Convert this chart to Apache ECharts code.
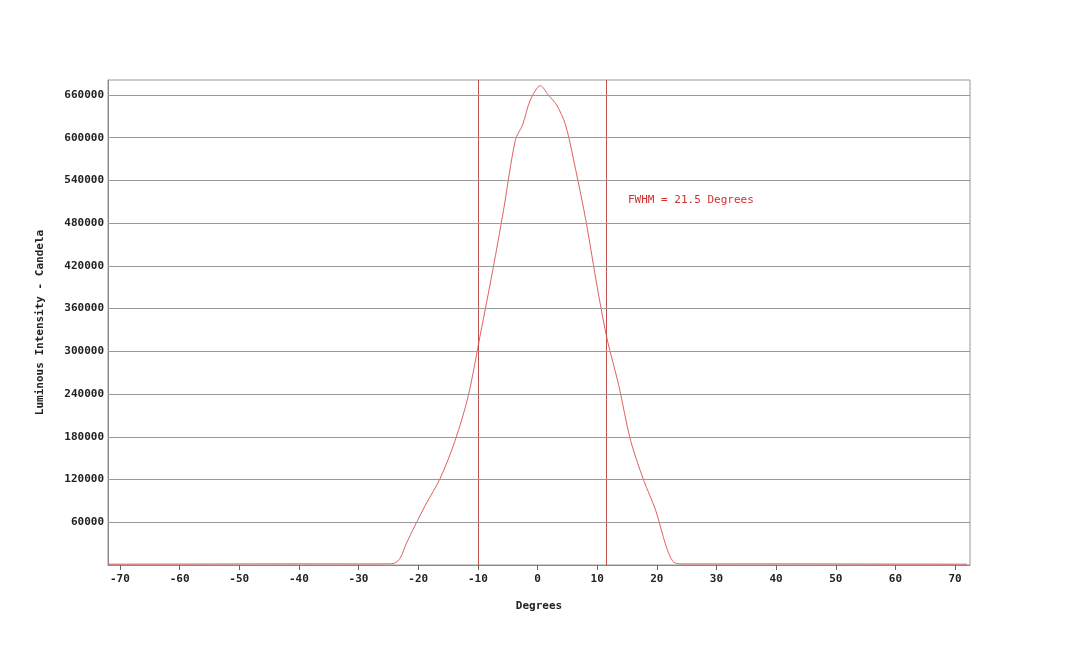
<!DOCTYPE html>
<html>
<head>
<meta charset="utf-8">
<script src="https://cdn.jsdelivr.net/npm/echarts@6/dist/echarts.min.js"></script>
<style>html,body{margin:0;padding:0;background:#fff;}#main{width:1080px;height:646px;}</style>
</head>
<body>
<div id="main"></div>
<script>
var degrees = [-72, -60, -50, -40, -30, -25, -24, -23, -22, -20.5, -18.8, -16.3, -13.8, -11.6, -9.6, -7.5, -5.7, -3.7, -2.5, -1.2, 0.5, 1.8, 3.2, 4.7, 6.4, 8.1, 10.1, 11.7, 13.6, 15.6, 17.8, 19.8, 21.5, 22.7, 24, 30, 40, 50, 60, 72];
var intensity = [1200, 1300, 1500, 1600, 1500, 1700, 2500, 10000, 30000, 56000, 84000, 122000, 175000, 238000, 323000, 414000, 498000, 597000, 618000, 653000, 673000, 660000, 646000, 618000, 555000, 484000, 386000, 316000, 253000, 175000, 119000, 77000, 28000, 5000, 1500, 1500, 1600, 1500, 1300, 1200];
var xTicks = [-70, -60, -50, -40, -30, -20, -10, 0, 10, 20, 30, 40, 50, 60, 70];
var yTicks = [60000, 120000, 180000, 240000, 300000, 360000, 420000, 480000, 540000, 600000, 660000];
var fwhmLines = [-10, 11.5];

var chart = echarts.init(document.getElementById('main'), null, { renderer: 'canvas' });
var font = 'DejaVu Sans Mono';

var option = {
  animation: false,
  grid: { left: 108, right: 110, top: 80, bottom: 81, show: true, borderColor: '#999', borderWidth: 1 },
  xAxis: {
    type: 'value',
    min: -72,
    max: 72.5,
    name: 'Degrees',
    nameLocation: 'middle',
    nameGap: 36,
    nameTextStyle: { fontFamily: font, fontWeight: 'bold', fontSize: 11, color: '#222' },
    axisLine: { onZero: false, lineStyle: { color: '#888' } },
    axisTick: { customValues: xTicks, length: 5, lineStyle: { color: '#666' } },
    axisLabel: { customValues: xTicks, fontFamily: font, fontWeight: 'bold', fontSize: 11, color: '#222', margin: 9 },
    splitLine: { show: false }
  },
  yAxis: {
    type: 'value',
    min: 0,
    max: 681000,
    name: 'Luminous Intensity - Candela',
    nameLocation: 'middle',
    nameGap: 62,
    nameTextStyle: { fontFamily: font, fontWeight: 'bold', fontSize: 11, color: '#222' },
    axisLine: { show: true, onZero: false, lineStyle: { color: '#888' } },
    axisTick: { customValues: yTicks, show: false },
    axisLabel: {
      customValues: yTicks, fontFamily: font, fontWeight: 'bold', fontSize: 11, color: '#222', margin: 4,
      formatter: function (v) { return String(v); }
    },
    splitLine: { show: false }
  },
  graphic: [{
    type: 'text', left: 628, top: 195,
    style: { text: 'FWHM = 21.5 Degrees', fill: '#d03030', font: '11px "DejaVu Sans Mono"' }
  }],
  series: [{
    type: 'line',
    data: degrees.map(function (d, i) { return [d, intensity[i]]; }),
    smooth: 0.3,
    showSymbol: false,
    lineStyle: { color: '#e06060', width: 1 },
    markLine: {
      silent: true, symbol: 'none', label: { show: false },
      lineStyle: { color: '#c05050', width: 1, type: 'solid' },
      data: fwhmLines.map(function (v) { return { xAxis: v }; })
    }
  }, {
    type: 'line',
    data: [],
    markLine: {
      silent: true, symbol: 'none', label: { show: false },
      lineStyle: { color: '#999', width: 1, type: 'solid' },
      data: yTicks.map(function (v) { return { yAxis: v }; })
    }
  }]
};
chart.setOption(option);
window.addEventListener('resize', chart.resize);
</script>
</body>
</html>
